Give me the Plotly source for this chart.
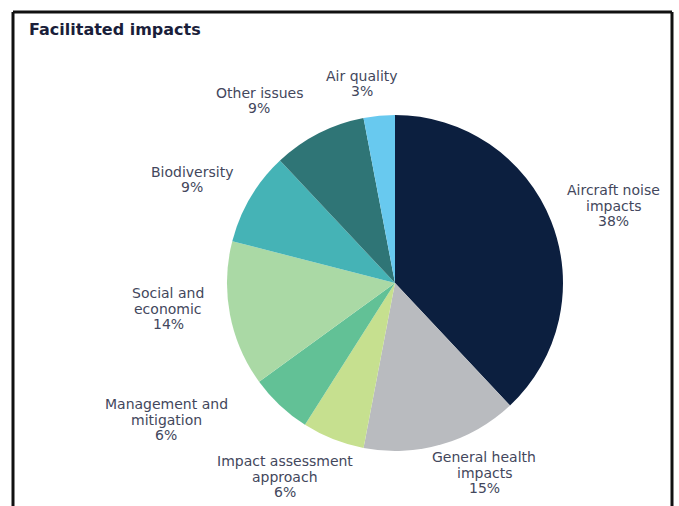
import plotly.graph_objects as go

# Share of facilitated impacts by topic
categories = [
    "Aircraft noise impacts",
    "General health impacts",
    "Impact assessment approach",
    "Management and mitigation",
    "Social and economic",
    "Biodiversity",
    "Other issues",
    "Air quality",
]
shares = [38, 15, 6, 6, 14, 9, 9, 3]
label_lines = [
    ["Aircraft noise", "impacts"],
    ["General health", "impacts"],
    ["Impact assessment", "approach"],
    ["Management and", "mitigation"],
    ["Social and", "economic"],
    ["Biodiversity"],
    ["Other issues"],
    ["Air quality"],
]

colors = ["#0c1f3f", "#b9bbbf", "#c6e08f", "#62c196", "#aad9a5",
          "#45b3b6", "#2f7576", "#68c9ef"]

W, H = 679, 506
# label anchor centres in pixels (x, y of first line)
label_pos = [(613, 190), (484, 457), (285, 461), (166, 404),
             (168, 293), (192, 172), (259, 93), (362, 76)]

# pie placement in pixels
cx, cy, r = 395, 283, 168

fig = go.Figure()
fig.add_trace(go.Pie(
    labels=categories,
    values=shares,
    sort=False,
    direction="clockwise",
    rotation=0,
    textinfo="none",
    hoverinfo="label+percent",
    marker=dict(colors=colors, line=dict(width=0)),
    domain=dict(x=[(cx - r) / W, (cx + r) / W],
                y=[1 - (cy + r) / H, 1 - (cy - r) / H]),
    showlegend=False,
))

line_h = 15.5
for lines, val, (px, py) in zip(label_lines, shares, label_pos):
    rows = lines + [f"{val}%"]
    for i, row in enumerate(rows):
        fig.add_annotation(
            x=px / W, y=1 - (py + i * line_h) / H,
            xref="paper", yref="paper",
            text=row, showarrow=False,
            xanchor="center", yanchor="middle",
            font=dict(family="DejaVu Sans", size=14, color="#43475c"),
        )

# heading
fig.add_annotation(
    x=27 / W, y=1 - 29 / H, xref="paper", yref="paper",
    text="<b>Facilitated impacts</b>", showarrow=False,
    xanchor="left", yanchor="middle",
    font=dict(family="DejaVu Sans", size=16, color="#1a1e3a"),
)

# frame around the panel (open at the bottom)
frame = dict(type="line", xref="paper", yref="paper",
             line=dict(color="#111111", width=3))
fig.add_shape(**frame, x0=13 / W, x1=672 / W, y0=1 - 12 / H, y1=1 - 12 / H)
fig.add_shape(**frame, x0=13 / W, x1=13 / W, y0=1 - 12 / H, y1=0)
fig.add_shape(**frame, x0=672 / W, x1=672 / W, y0=1 - 12 / H, y1=0)

fig.update_layout(
    width=W, height=H,
    margin=dict(l=0, r=0, t=0, b=0),
    paper_bgcolor="white",
    plot_bgcolor="white",
)

fig.write_html("out.html")
